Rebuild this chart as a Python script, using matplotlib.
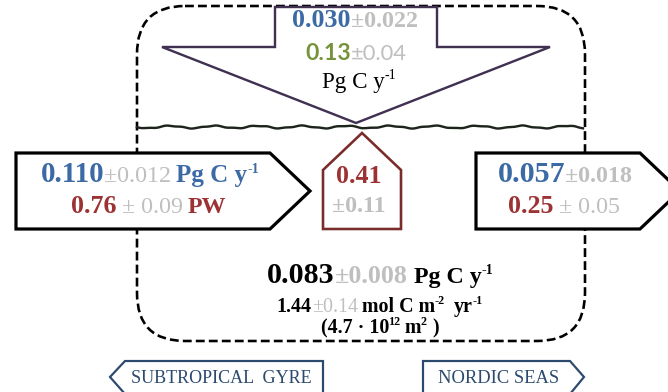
import numpy as np
import matplotlib.pyplot as plt
from matplotlib.patches import Polygon, FancyBboxPatch

# canvas in pixels (dpi=100, axes fill the figure, y grows downwards)
W, H = 668, 392
PX = 0.72  # points per pixel

SERIF = ["Liberation Serif", "DejaVu Serif"]
SANS = ["Lato", "DejaVu Sans"]

BLUE = "#3b6aa4"
RED = "#9c3233"
GREEN = "#76933c"
GRAY = "#bfbfbf"
PURPLE = "#403152"
BROWN = "#7a2c2b"
NAVY = "#2c4a6e"

# ---------------------------------------------------------------------------
# Budget values (value, uncertainty)
# ---------------------------------------------------------------------------
air_sea_c = ("0.030", "0.022")       # Pg C y-1, air-sea uptake
air_sea_alt = ("0.13", "0.04")       # Pg C y-1, alternative estimate
south_c = ("0.110", "0.012")         # Pg C y-1, inflow from subtropical gyre
south_heat = ("0.76", "0.09")        # PW
north_c = ("0.057", "0.018")         # Pg C y-1, outflow to Nordic seas
north_heat = ("0.25", "0.05")        # PW
surface_heat = ("0.41", "0.11")      # PW, heat loss to atmosphere
storage_c = ("0.083", "0.008")       # Pg C y-1, net storage
storage_areal = ("1.44", "0.14")     # mol C m-2 yr-1
region_area = ("4.7", "12")          # 4.7 x 10^12 m2
boundaries = ["SUBTROPICAL  GYRE", "NORDIC SEAS"]


def run(text, color="black", size=18, weight="bold", family=SERIF, rise=0, gap=0):
    return dict(text=text, color=color, size=size, weight=weight,
                family=family, rise=rise, gap=gap)


def draw_line(ax, renderer, xc, y, runs):
    """Lay out a row of differently styled text pieces centred on xc."""
    placed = []
    for r in runs:
        t = ax.text(0, y - r["rise"], r["text"], color=r["color"],
                    fontsize=r["size"] * PX, fontweight=r["weight"],
                    family=r["family"], ha="left", va="baseline", zorder=10)
        w = t.get_window_extent(renderer).width
        placed.append((t, r["gap"], w))
    total = sum(g + w for _, g, w in placed)
    x = xc - total / 2
    for t, g, w in placed:
        x += g
        t.set_x(x)
        x += w


def shape(ax, pts, edge, lw, z=3):
    ax.add_patch(Polygon(pts, closed=True, facecolor="white", edgecolor=edge,
                         lw=lw * PX, joinstyle="miter", zorder=z))


fig = plt.figure(figsize=(W / 100, H / 100), dpi=100)
ax = fig.add_axes([0, 0, 1, 1])
ax.set_xlim(0, W)
ax.set_ylim(H, 0)
ax.axis("off")
renderer = fig.canvas.get_renderer()

# dashed regional box
ax.add_patch(FancyBboxPatch((137, 6), 448, 335,
                            boxstyle="round,pad=0,rounding_size=48",
                            fill=False, edgecolor="black", lw=2.6 * PX,
                            ls=(0, (3.4, 1.6)), zorder=1))

# sea surface
xs = np.linspace(137, 583, 400)
ys = 127 + 1.2 * np.sin(2 * np.pi * (xs - 137) / 44) + 0.4 * np.sin(2 * np.pi * xs / 17)
ax.plot(xs, ys, color="#1c241c", lw=2.4 * PX, zorder=2)

# air-sea flux arrow
shape(ax, [(275, 7), (437, 7), (437, 47), (550, 47), (356, 123), (162, 47), (275, 47)],
      PURPLE, 2.4, z=4)
# lateral transport arrows
shape(ax, [(16, 153), (270, 153), (310, 191), (270, 229), (16, 229)], "black", 3.2)
shape(ax, [(476, 153), (640, 153), (680, 191), (640, 229), (476, 229)], "black", 3.2)
# surface heat loss
shape(ax, [(323, 229), (323, 170), (362, 133), (401, 170), (401, 229)], BROWN, 2.6)
# boundary labels
shape(ax, [(110, 377), (125, 361), (323, 361), (323, 394), (125, 394)], NAVY, 2.2)
shape(ax, [(423, 361), (570, 361), (584, 377), (570, 394), (423, 394)], NAVY, 2.2)

# air-sea flux text
draw_line(ax, renderer, 355, 27, [
    run(air_sea_c[0], BLUE, 26),
    run("\u00b1" + air_sea_c[1], GRAY, 24),
])
draw_line(ax, renderer, 356, 60, [
    run(air_sea_alt[0], GREEN, 23, family=SANS),
    run("\u00b1" + air_sea_alt[1], GRAY, 22, family=SANS, weight="normal"),
])
draw_line(ax, renderer, 359, 88, [
    run("Pg C y", "black", 23, weight="normal"),
    run("-1", "black", 14, weight="normal", rise=9),
])

# southern boundary
draw_line(ax, renderer, 150, 182, [
    run(south_c[0], BLUE, 29),
    run("\u00b1" + south_c[1], GRAY, 24, weight="normal"),
    run("Pg C y", BLUE, 25, gap=5),
    run("-1", BLUE, 14, rise=9),
])
draw_line(ax, renderer, 149, 213, [
    run(south_heat[0], RED, 26),
    run("\u00b1 " + south_heat[1], GRAY, 24, weight="normal", gap=5),
    run("PW", RED, 24, gap=5),
])

# surface heat loss
draw_line(ax, renderer, 359, 183, [run(surface_heat[0], RED, 26)])
draw_line(ax, renderer, 359, 212, [run("\u00b1" + surface_heat[1], GRAY, 24)])

# northern boundary
draw_line(ax, renderer, 565, 182, [
    run(north_c[0], BLUE, 30),
    run("\u00b1" + north_c[1], GRAY, 24),
])
draw_line(ax, renderer, 564, 213, [
    run(north_heat[0], RED, 26),
    run("\u00b1 " + north_heat[1], GRAY, 24, weight="normal", gap=5),
])

# storage
draw_line(ax, renderer, 380, 283, [
    run(storage_c[0], "black", 30),
    run("\u00b1" + storage_c[1], GRAY, 26),
    run("Pg C y", "black", 24, gap=6),
    run("-1", "black", 14, rise=9),
])
draw_line(ax, renderer, 380, 312, [
    run(storage_areal[0], "black", 20),
    run("\u00b1" + storage_areal[1], GRAY, 20, weight="normal"),
    run("mol C m", "black", 20, gap=4),
    run("-2", "black", 12, rise=8),
    run("yr", "black", 20, gap=9),
    run("-1", "black", 12, rise=8),
])
draw_line(ax, renderer, 380, 333, [
    run("(" + region_area[0] + " \u00b7 10", "black", 20),
    run(region_area[1], "black", 12, rise=8),
    run("m", "black", 20, gap=3),
    run("2", "black", 12, rise=8),
    run(")", "black", 20, gap=6),
])

# boundary names
draw_line(ax, renderer, 221, 383, [run(boundaries[0], NAVY, 18, weight="normal")])
draw_line(ax, renderer, 499, 383, [run(boundaries[1], NAVY, 18.5, weight="normal")])

fig.savefig("out.png", dpi=100)
